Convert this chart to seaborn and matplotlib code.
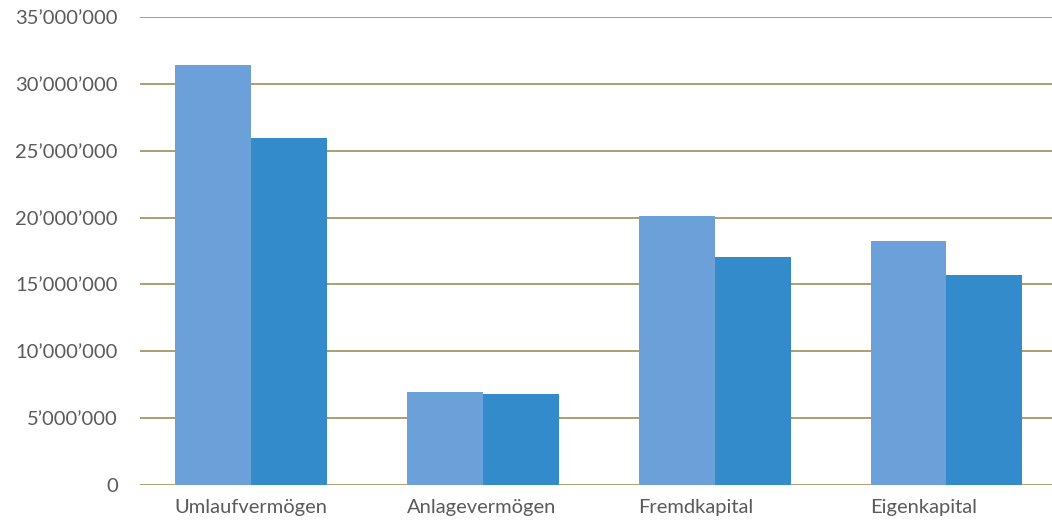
import pandas as pd
import numpy as np
import matplotlib
matplotlib.use("Agg")
import matplotlib.pyplot as plt
import matplotlib.transforms as mtransforms
import seaborn as sns
from matplotlib.ticker import FuncFormatter

categories = ["Umlaufvermögen", "Anlagevermögen", "Fremdkapital", "Eigenkapital"]
series_names = ["Jahr 1", "Jahr 2"]
values_1 = [31_410_000, 6_960_000, 20_120_000, 18_250_000]
values_2 = [25_950_000, 6_810_000, 17_050_000, 15_710_000]
y_ticks = [0, 5_000_000, 10_000_000, 15_000_000, 20_000_000, 25_000_000, 30_000_000, 35_000_000]

df = pd.DataFrame({
    "Kategorie": categories * 2,
    "Serie": [series_names[0]] * 4 + [series_names[1]] * 4,
    "Wert": values_1 + values_2,
})

sns.set_theme(style="white")
plt.rcParams["font.family"] = ["Lato", "DejaVu Sans"]

fig = plt.figure(figsize=(10.52, 5.24), dpi=100)
ax = fig.add_axes([140 / 1052, 1 - 485 / 524, 1 - 140 / 1052, (485 - 17) / 524])

sns.barplot(
    data=df, x="Kategorie", y="Wert", hue="Serie",
    palette=["#6CA0D8", "#348BCB"], width=0.655, saturation=1,
    legend=False, ax=ax, zorder=3, linewidth=0, edgecolor="none",
)

ax.set_ylim(0, 35_000_000)
ax.set_xlim(-0.478, 3.455)
ax.set_yticks(y_ticks)
ax.yaxis.set_major_formatter(FuncFormatter(lambda v, p: f"{v:,.0f}".replace(",", "\u2019")))
ax.grid(axis="y", color="#AD9E70", linewidth=1.4, zorder=0)
ax.grid(axis="x", visible=False)
for s in ax.spines.values():
    s.set_visible(False)

ax.set_xlabel("")
ax.set_ylabel("")
ax.tick_params(axis="y", length=0, pad=16, labelsize=14.5, labelcolor="#5a5a5a")
ax.tick_params(axis="x", length=0, pad=10, labelsize=14.5, labelcolor="#5a5a5a")

# category labels start at the left edge of each bar group
shift = mtransforms.ScaledTranslation(-0.76, 0, fig.dpi_scale_trans)
for lab in ax.get_xticklabels():
    lab.set_horizontalalignment("left")
    lab.set_transform(lab.get_transform() + shift)

fig.savefig("out.png", dpi=100)
